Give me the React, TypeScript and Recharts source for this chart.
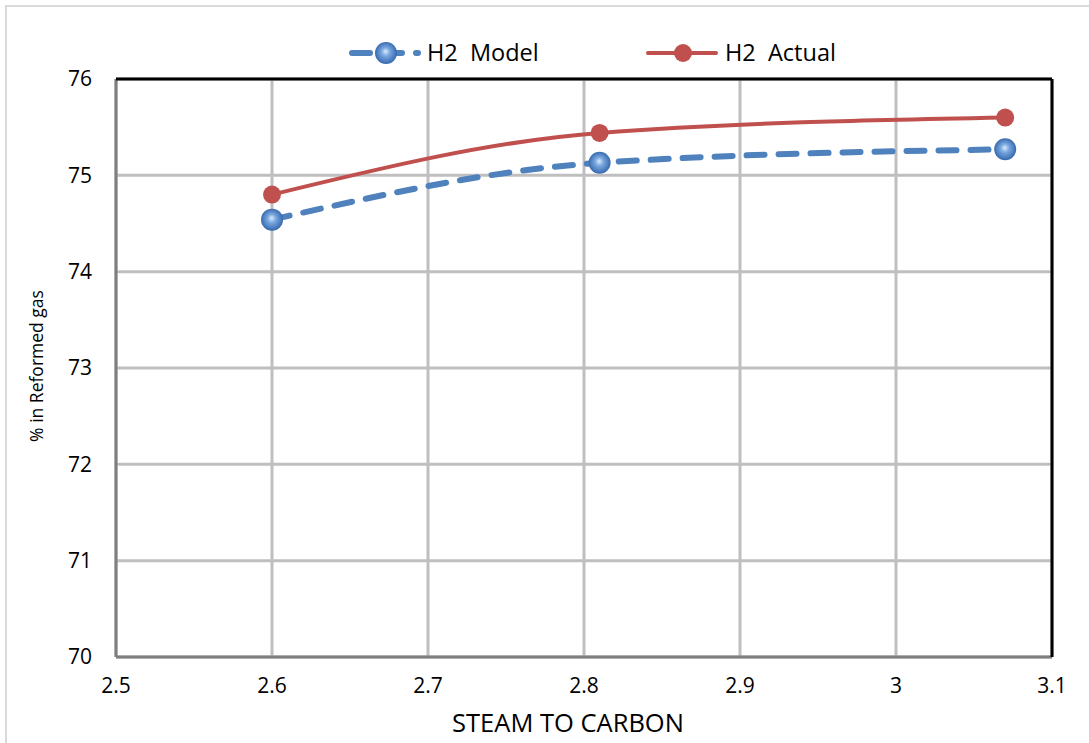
import React from 'react';
import { LineChart, Line, XAxis, YAxis, CartesianGrid, ReferenceLine } from 'recharts';

const xValues = [2.6, 2.81, 3.07];
const modelValues = [74.54, 75.13, 75.27];
const actualValues = [74.8, 75.44, 75.6];
const xTicks = [2.5, 2.6, 2.7, 2.8, 2.9, 3.0, 3.1];
const yTicks = [70, 71, 72, 73, 74, 75, 76];
const seriesNames = ['H2\u00a0\u00a0Model', 'H2\u00a0\u00a0Actual'];

const data = xValues.map((x, i) => ({ x, model: modelValues[i], actual: actualValues[i] }));

const FONT = "'Open Sans', 'Liberation Sans', sans-serif";
const BLUE = '#4f81bd';
const RED = '#c0504d';

const GradientDefs = ({ id }: { id: string }) => (
  <defs>
    <radialGradient id={id} cx="50%" cy="50%" r="55%" fx="48%" fy="42%">
      <stop offset="0%" stopColor="#dceafc" />
      <stop offset="35%" stopColor="#79a8e0" />
      <stop offset="100%" stopColor="#2d5fa6" />
    </radialGradient>
  </defs>
);

const ModelDot = (props: any) => {
  const { cx, cy, index } = props;
  if (cx == null || cy == null) return null;
  return <circle key={`m${index}`} cx={cx} cy={cy} r={11} fill="url(#sphereGrad)" stroke="none" />;
};

const ActualDot = (props: any) => {
  const { cx, cy, index } = props;
  if (cx == null || cy == null) return null;
  return <circle key={`a${index}`} cx={cx} cy={cy} r={9} fill={RED} stroke="none" />;
};

const fmt = (v: number) => String(Number(v.toFixed(1)));

export default function App() {
  return (
    <div style={{ position: 'absolute', left: 0, top: 0, width: 1089, height: 743, background: '#fff', fontFamily: FONT }}>
      <div style={{ position: 'absolute', left: 5, top: 5, right: 0, bottom: 0, borderTop: '2px solid #d9d9d9', borderLeft: '2px solid #d9d9d9' }} />
      <svg style={{ position: 'absolute', left: 0, top: 0 }} width={1089} height={80}>
        <GradientDefs id="legGrad" />
        <line x1={352} y1={53} x2={418} y2={53} stroke={BLUE} strokeWidth={6} strokeDasharray="18 14" strokeLinecap="round" />
        <circle cx={386} cy={53} r={11} fill="url(#legGrad)" />
        <text x={427} y={61} fontFamily={FONT} fontSize={23.5} fill="#000">{seriesNames[0]}</text>
        <line x1={648} y1={53} x2={716} y2={53} stroke={RED} strokeWidth={4} strokeLinecap="round" />
        <circle cx={683} cy={53} r={9} fill={RED} />
        <text x={725} y={61} fontFamily={FONT} fontSize={23.5} fill="#000">{seriesNames[1]}</text>
      </svg>
      <div style={{ position: 'absolute', left: 0, top: 0 }}>
        <LineChart width={1089} height={743} data={data} margin={{ top: 79, right: 37, bottom: 36, left: 36 }}>
          <GradientDefs id="sphereGrad" />
          <CartesianGrid stroke="#bfbfbf" strokeWidth={3} horizontalValues={yTicks} verticalValues={xTicks} />
          <XAxis
            dataKey="x"
            type="number"
            domain={[2.5, 3.1]}
            ticks={xTicks}
            tickFormatter={fmt}
            axisLine={false}
            tickLine={false}
            tickSize={0}
            tickMargin={21}
            height={50}
            interval={0}
            tick={{ fill: '#000', fontSize: 21, fontFamily: FONT }}
            label={{
              content: (p: any) => {
                const vb = p.viewBox || {};
                return (
                  <text x={vb.x + vb.width / 2 - 16} y={vb.y + 75} textAnchor="middle" fontFamily={FONT} fontSize={25.5} fill="#000">
                    STEAM TO CARBON
                  </text>
                );
              },
            }}
          />
          <YAxis
            type="number"
            domain={[70, 76]}
            ticks={yTicks}
            axisLine={false}
            tickLine={false}
            tickSize={0}
            tickMargin={24}
            width={80}
            interval={0}
            tick={{ fill: '#000', fontSize: 21, fontFamily: FONT }}
            label={{
              content: (p: any) => {
                const vb = p.viewBox || {};
                const cx = 36;
                const cy = vb.y + vb.height / 2 - 2;
                return (
                  <text x={cx} y={cy} transform={`rotate(-90 ${cx} ${cy})`} textAnchor="middle" dominantBaseline="central" fontFamily={FONT} fontSize={17.5} fill="#000">
                    % in Reformed gas
                  </text>
                );
              },
            }}
          />
          <ReferenceLine x={2.5} stroke="#7f7f7f" strokeWidth={3} />
          <ReferenceLine y={70} stroke="#7f7f7f" strokeWidth={3} />
          <ReferenceLine x={3.1} stroke="#000" strokeWidth={3} />
          <ReferenceLine y={76} stroke="#000" strokeWidth={3} />
          <Line
            type="monotone"
            dataKey="model"
            stroke={BLUE}
            strokeWidth={6}
            strokeDasharray="18 14"
            strokeLinecap="round"
            dot={<ModelDot />}
            activeDot={false}
            isAnimationActive={false}
          />
          <Line
            type="monotone"
            dataKey="actual"
            stroke={RED}
            strokeWidth={4}
            dot={<ActualDot />}
            activeDot={false}
            isAnimationActive={false}
          />
        </LineChart>
      </div>
    </div>
  );
}
